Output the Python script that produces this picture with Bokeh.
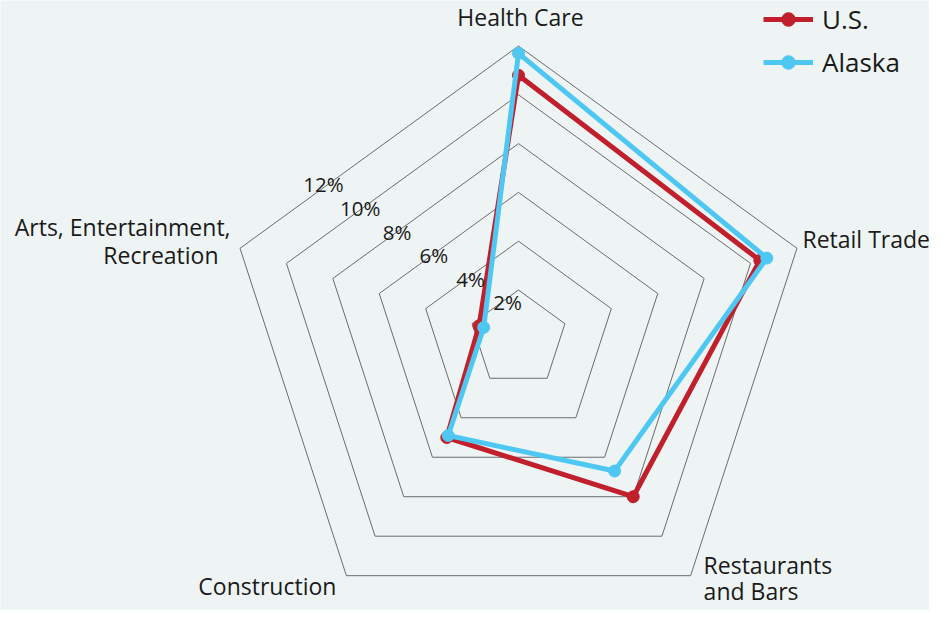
import math
from bokeh.plotting import figure
from bokeh.models import Legend, LegendItem, Range1d
from bokeh.core.properties import value
from bokeh.embed import file_html
from bokeh.resources import INLINE

# ---- data ----
categories = ["Health Care", "Retail Trade", "Restaurants and Bars",
              "Construction", "Arts, Entertainment, Recreation"]
label_lines = [["Health Care"], ["Retail Trade"], ["Restaurants", "and Bars"],
               ["Construction"], ["Arts, Entertainment,", "Recreation"]]
us = [10.8, 10.4, 8.0, 5.0, 1.7]
alaska = [11.7, 10.7, 6.7, 4.9, 1.5]
ticks = [2, 4, 6, 8, 10, 12]
tick_labels = ["2%", "4%", "6%", "8%", "10%", "12%"]

FONT = "Open Sans"
RED = "#c01f2b"
BLUE = "#4ec8f2"
BG = "#eef4f4"

n = len(categories)
angles = [2 * math.pi * i / n for i in range(n)]


def polar(vals):
    xs = [v * math.sin(a) for v, a in zip(vals, angles)]
    ys = [v * math.cos(a) for v, a in zip(vals, angles)]
    return xs + xs[:1], ys + ys[:1]


W, H = 929, 610
k = 24.4  # px per percent
x0 = -518 / k
y1 = 338.3 / k
p = figure(width=W, height=H, output_backend="svg", toolbar_location=None,
           x_range=Range1d(x0, x0 + W / k), y_range=Range1d(y1 - H / k, y1),
           x_axis_location=None, y_axis_location=None,
           min_border=0)
p.title.visible = False
p.grid.visible = False
p.outline_line_color = None
p.background_fill_color = BG
p.border_fill_color = BG

# grid pentagons
gx, gy = [], []
for t in ticks:
    xs, ys = polar([t] * n)
    gx.append(xs)
    gy.append(ys)
p.multi_line(gx, gy, line_color="#6b6b6b", line_width=1)

# series
ux, uy = polar(us)
ax, ay = polar(alaska)
r_us_l = p.line(ux, uy, line_color=RED, line_width=5, line_join="round")
r_us_m = p.scatter(ux[:-1], uy[:-1], size=12, color=RED)
r_ak_l = p.line(ax, ay, line_color=BLUE, line_width=5, line_join="round")
r_ak_m = p.scatter(ax[:-1], ay[:-1], size=12, color=BLUE)

# tick labels along an upper-left diagonal
tx = [1.057 - 0.754 * t for t in ticks]
ty = [0.48 + 0.484 * t for t in ticks]
p.text(tx, ty, text=tick_labels, text_font=value(FONT), text_font_size="20.5px",
       text_color="#1a1a1a", text_align="center", text_baseline="alphabetic",
       y_offset=-1)

# category labels: (align, [(x_off, y_off) per line])
layout = [
    ("center", [(2, -29.5)]),
    ("left", [(5.5, -9)]),
    ("left", [(13, -11), (13, 15)]),
    ("right", [(-10, 10)]),
    ("right", [(-9.5, -21), (-21.5, 7)]),
]
R = max(ticks)
for i, (lines, (align, offs)) in enumerate(zip(label_lines, layout)):
    vx = R * math.sin(angles[i])
    vy = R * math.cos(angles[i])
    for line, (xo, yo) in zip(lines, offs):
        p.text([vx], [vy], text=[line], text_font=value(FONT),
               text_font_size="23px", text_color="#1a1a1a",
               text_align=align, text_baseline="alphabetic",
               x_offset=xo, y_offset=yo)

legend = Legend(items=[LegendItem(label="U.S.", renderers=[r_us_l, r_us_m]),
                       LegendItem(label="Alaska", renderers=[r_ak_l, r_ak_m])],
                location=(763, 530), glyph_width=50, glyph_height=34,
                label_height=34, spacing=7, padding=0, margin=0,
                label_standoff=9, label_text_font=FONT,
                label_text_font_size="26px", label_text_color="#1a1a1a",
                border_line_color=None, background_fill_alpha=0)
p.add_layout(legend)

open("out.html", "w").write(file_html(p, INLINE))
